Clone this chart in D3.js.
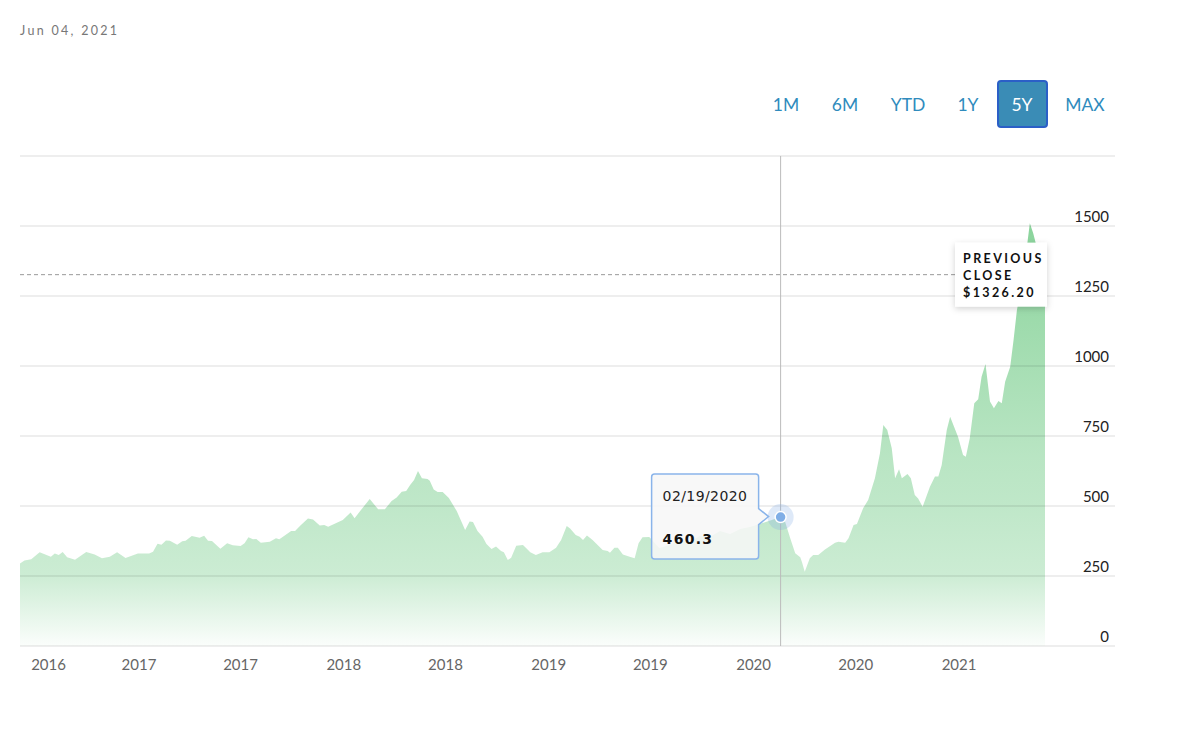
<!DOCTYPE html>
<html>
<head>
<meta charset="utf-8">
<script src="https://cdn.jsdelivr.net/npm/d3@7"></script>
<style>
  body { margin: 0; background: #fff; }
  svg { display: block; }
</style>
</head>
<body>
<div id="chart"></div>
<script>
// price history (5Y view)
const dates = [
  "2016-06-04","2016-06-12","2016-06-24","2016-07-09","2016-07-29","2016-08-05","2016-08-12","2016-08-19",
  "2016-08-27","2016-09-10","2016-09-30","2016-10-15","2016-10-28","2016-11-11","2016-11-24","2016-12-09",
  "2016-12-31","2017-01-20","2017-01-27","2017-02-04","2017-02-11","2017-02-19","2017-02-26","2017-03-11",
  "2017-03-20","2017-03-26","2017-04-06","2017-04-20","2017-04-28","2017-05-05","2017-05-12","2017-05-27",
  "2017-06-08","2017-06-18","2017-07-02","2017-07-09","2017-07-16","2017-07-24","2017-07-30","2017-08-07",
  "2017-08-23","2017-09-03","2017-09-09","2017-09-18","2017-09-30","2017-10-07","2017-10-17","2017-10-30",
  "2017-11-08","2017-11-20","2017-11-28","2017-12-05","2017-12-31","2018-01-14","2018-01-21","2018-02-05",
  "2018-02-17","2018-03-04","2018-03-16","2018-03-28","2018-04-06","2018-04-15","2018-04-23","2018-04-30",
  "2018-05-07","2018-05-14","2018-05-21","2018-05-31","2018-06-04","2018-06-11","2018-06-18","2018-06-27",
  "2018-07-08","2018-07-22","2018-08-06","2018-08-14","2018-08-20","2018-08-28","2018-09-06","2018-09-13",
  "2018-09-22","2018-09-30","2018-10-09","2018-10-14","2018-10-21","2018-10-27","2018-11-05","2018-11-17",
  "2018-11-23","2018-11-30","2018-12-10","2018-12-22","2019-01-03","2019-01-15","2019-01-24","2019-02-03",
  "2019-02-09","2019-02-19","2019-02-26","2019-03-04","2019-03-11","2019-03-21","2019-03-30","2019-04-08",
  "2019-04-17","2019-04-21","2019-04-29","2019-05-05","2019-05-14","2019-05-26","2019-06-04","2019-06-11",
  "2019-06-18","2019-06-30","2019-07-18","2019-08-05","2019-08-23","2019-09-10","2019-09-28","2019-10-16",
  "2019-11-03","2019-11-21","2019-12-09","2019-12-26","2020-01-07","2020-01-25","2020-02-19","2020-02-27",
  "2020-03-07","2020-03-16","2020-03-25","2020-03-28","2020-04-02","2020-04-11","2020-04-17","2020-04-26",
  "2020-05-08","2020-05-26","2020-06-01","2020-06-13","2020-06-19","2020-06-28","2020-07-04","2020-07-15",
  "2020-07-24","2020-08-05","2020-08-14","2020-08-20","2020-08-27","2020-09-04","2020-09-10","2020-09-17",
  "2020-09-22","2020-10-02","2020-10-08","2020-10-15","2020-10-21","2020-10-29","2020-11-11","2020-11-20",
  "2020-11-26","2020-12-02","2020-12-11","2020-12-17","2020-12-24","2020-12-31","2021-01-09","2021-01-14",
  "2021-01-21","2021-01-29","2021-02-05","2021-02-11","2021-02-18","2021-02-26","2021-03-05","2021-03-13",
  "2021-03-19","2021-03-25","2021-04-03","2021-04-09","2021-04-15","2021-04-24","2021-05-02","2021-05-08",
  "2021-05-14","2021-05-21","2021-05-28","2021-06-04"
];
const closes = [
  295,305,310,335,319,330,325,336,
  317,308,336,327,313,319,335,314,
  330,330,337,365,362,377,376,362,
  374,376,393,387,394,376,375,347,
  367,360,357,367,388,381,382,369,
  372,385,381,394,411,411,431,455,
  452,430,432,426,450,477,456,495,
  525,488,488,518,530,551,554,575,
  593,625,599,596,590,559,550,550,
  529,482,414,445,443,411,390,364,
  346,355,339,335,307,315,358,361,
  349,335,325,335,335,351,379,429,
  420,396,390,379,395,379,361,343,
  339,333,351,351,327,319,313,367,
  388,389,350,361,379,371,393,389,
  411,400,418,425,432,444,460.3,444,
  386,331,317,300,265,313,325,325,
  345,369,372,369,385,432,436,492,
  521,599,688,789,771,706,599,631,
  599,614,599,539,527,497,569,605,
  605,646,771,819,783,747,682,676,
  742,867,881,962,1007,873,849,875,
  867,944,997,1093,1200,1295,1414,1510,
  1474,1420,1380,1326.2
];

const gridValues = [0, 250, 500, 750, 1000, 1250, 1500, 1750];
const yTickValues = [0, 250, 500, 750, 1000, 1250, 1500];
const xTickDates = ["2016-07-24","2017-01-01","2017-07-01","2018-01-01","2018-07-01",
                    "2019-01-01","2019-07-01","2020-01-01","2020-07-01","2021-01-01"];
const ranges = ["1M", "6M", "YTD", "1Y", "5Y", "MAX"];
const activeRange = "5Y";
const hoverDate = "2020-02-19";
const previousClose = 1326.20;
const asOf = "Jun 04, 2021";

const parse = d3.timeParse("%Y-%m-%d");
const data = dates.map((d, k) => ({date: parse(d), value: closes[k]}));

const W = 1200, H = 731;
const svg = d3.select("#chart").append("svg")
    .attr("width", W)
    .attr("height", H);

const x = d3.scaleTime()
    .domain([data[0].date, data[data.length - 1].date])
    .range([20, 1045]);
const y = d3.scaleLinear()
    .domain([0, 1750])
    .range([646, 156]);
const gridRight = 1115;

// gradient for the area
const defs = svg.append("defs");
const grad = defs.append("linearGradient")
    .attr("id", "areaFill")
    .attr("gradientUnits", "userSpaceOnUse")
    .attr("x1", 0).attr("x2", 0)
    .attr("y1", y(1500)).attr("y2", y(0));
[[0, 0.86], [0.55, 0.52], [0.67, 0.47], [0.83, 0.38], [1, 0.03]].forEach(s => {
    grad.append("stop")
        .attr("offset", s[0])
        .attr("stop-color", "rgb(120,205,140)")
        .attr("stop-opacity", s[1]);
});

const shadow = defs.append("filter")
    .attr("id", "shadow")
    .attr("x", "-30%").attr("y", "-30%")
    .attr("width", "160%").attr("height", "160%");
shadow.append("feDropShadow")
    .attr("dx", 0).attr("dy", 2)
    .attr("stdDeviation", 3)
    .attr("flood-color", "#000")
    .attr("flood-opacity", 0.18);

// as-of date
svg.append("text")
    .attr("x", 20)
    .attr("y", 35)
    .style("font-family", "Lato, sans-serif")
    .style("font-size", "12.5px")
    .style("letter-spacing", "2.3px")
    .style("fill", "#777")
    .text(asOf);

// range buttons
const btnCenters = {"1M": 786, "6M": 845, "YTD": 908, "1Y": 968, "5Y": 1022, "MAX": 1085};

const btn = svg.append("g").selectAll("g")
    .data(ranges)
    .join("g")
    .attr("transform", d => `translate(${btnCenters[d]},104)`);

btn.filter(d => d === activeRange)
    .append("rect")
    .attr("x", -24).attr("y", -23)
    .attr("width", 49).attr("height", 46)
    .attr("rx", 3)
    .attr("fill", "#3a8cb6")
    .attr("stroke", "#2b5fc7")
    .attr("stroke-width", 2);

btn.append("text")
    .attr("text-anchor", "middle")
    .attr("y", 6.5)
    .style("font-family", "Lato, sans-serif")
    .style("font-size", "17.5px")
    .style("fill", d => d === activeRange ? "#fff" : "#2f8bbd")
    .text(d => d);

// area
const area = d3.area()
    .x(d => x(d.date))
    .y0(y(0))
    .y1(d => y(d.value));

svg.append("path")
    .datum(data)
    .attr("d", area)
    .attr("fill", "url(#areaFill)");

// gridlines on top of the area
svg.append("g").selectAll("line")
    .data(gridValues)
    .join("line")
    .attr("x1", 20).attr("x2", gridRight)
    .attr("y1", d => y(d)).attr("y2", d => y(d))
    .attr("stroke", "#000")
    .attr("stroke-opacity", 0.135)
    .attr("stroke-width", 1);

// y labels
svg.append("g").selectAll("text")
    .data(yTickValues)
    .join("text")
    .attr("x", 1109)
    .attr("y", d => y(d) - 4)
    .attr("text-anchor", "end")
    .style("font-family", "Lato, sans-serif")
    .style("font-size", "15px")
    .style("fill", "#222")
    .text(d => d);

// x axis labels
const xAxis = d3.axisBottom(x)
    .tickValues(xTickDates.map(parse))
    .tickFormat(d3.timeFormat("%Y"))
    .tickSize(0)
    .tickPadding(0);

const gx = svg.append("g")
    .attr("transform", `translate(0,${y(0)})`)
    .call(xAxis);
gx.select(".domain").remove();
gx.selectAll("text")
    .attr("dy", 0)
    .attr("y", 24)
    .style("font-family", "Lato, sans-serif")
    .style("font-size", "15px")
    .style("fill", "#666");

// previous close line + label
svg.append("line")
    .attr("x1", 20).attr("x2", 955)
    .attr("y1", y(previousClose)).attr("y2", y(previousClose))
    .attr("stroke", "#999")
    .attr("stroke-width", 1)
    .attr("stroke-dasharray", "4,3");

const pc = svg.append("g")
    .attr("transform", `translate(955,${y(previousClose) - 32})`);
pc.append("rect")
    .attr("width", 92).attr("height", 64)
    .attr("fill", "#fff")
    .attr("filter", "url(#shadow)");
pc.selectAll("text")
    .data(["PREVIOUS", "CLOSE", "$" + previousClose.toFixed(2)])
    .join("text")
    .attr("x", 8)
    .attr("y", (d, k) => 20 + k * 17)
    .style("font-family", "Lato, sans-serif")
    .style("font-weight", "bold")
    .style("font-size", "12.5px")
    .style("letter-spacing", "2.4px")
    .style("fill", "#111")
    .text(d => d);

// hover crosshair, point and tooltip
const hovered = data.find(d => d3.timeFormat("%Y-%m-%d")(d.date) === hoverDate);
const hx = x(hovered.date), hy = y(hovered.value);

svg.append("line")
    .attr("x1", hx).attr("x2", hx)
    .attr("y1", y(1750)).attr("y2", y(0))
    .attr("stroke", "#bbb")
    .attr("stroke-width", 1);

svg.append("circle")
    .attr("cx", hx).attr("cy", hy)
    .attr("r", 13)
    .attr("fill", "rgb(124,168,228)")
    .attr("fill-opacity", 0.25);
svg.append("circle")
    .attr("cx", hx).attr("cy", hy)
    .attr("r", 5.5)
    .attr("fill", "#80aee6")
    .attr("stroke", "#fff")
    .attr("stroke-width", 1.5);

const tipW = 107, tipH = 85;
const tx = hx - 12 - 10 - tipW, ty = hy - 43;
const tip = svg.append("g").attr("transform", `translate(${tx},${ty})`);
tip.append("path")
    .attr("d", `M3,0 H${tipW - 3} Q${tipW},0 ${tipW},3 V${tipH / 2 - 8} L${tipW + 10},${tipH / 2} L${tipW},${tipH / 2 + 8} V${tipH - 3} Q${tipW},${tipH} ${tipW - 3},${tipH} H3 Q0,${tipH} 0,${tipH - 3} V3 Q0,0 3,0 Z`)
    .attr("fill", "rgb(247,247,247)")
    .attr("fill-opacity", 0.86)
    .attr("stroke", "#8ab4ea")
    .attr("stroke-width", 1.5);
tip.append("text")
    .attr("x", 11).attr("y", 27)
    .style("font-family", "'DejaVu Sans', sans-serif")
    .style("font-size", "14px")
    .style("letter-spacing", "0.4px")
    .style("fill", "#222")
    .text(d3.timeFormat("%m/%d/%Y")(hovered.date));
tip.append("text")
    .attr("x", 11).attr("y", 70)
    .style("font-family", "'DejaVu Sans', sans-serif")
    .style("font-size", "14px")
    .style("font-weight", "bold")
    .style("letter-spacing", "1.3px")
    .style("fill", "#111")
    .text(hovered.value);
</script>
</body>
</html>
